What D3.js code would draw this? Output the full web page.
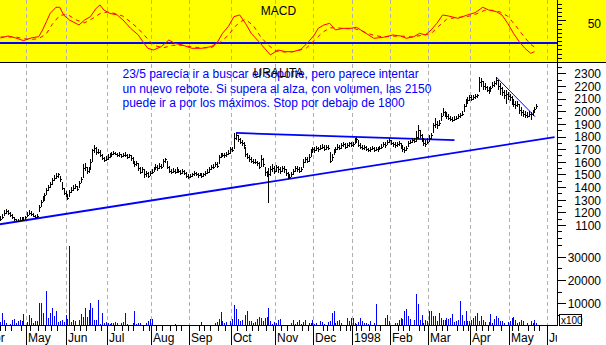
<!DOCTYPE html>
<html><head><meta charset="utf-8">
<script src="https://cdn.jsdelivr.net/npm/d3@7"></script>
<style>
html,body{margin:0;padding:0;background:#fff;}
svg{display:block;font-family:"Liberation Sans",Arial,sans-serif;}
</style></head><body>
<svg id="c" width="606" height="345"></svg>
<script>
// ---------- DATA ----------
const calendarStart = "1997-04-01";
const calendarEnd = "1998-06-30";
const firstBarDate = "1997-04-11";
const holidays = ["1997-05-01","1997-08-15","1997-12-08","1997-12-25","1997-12-26","1998-01-01","1998-01-06","1998-04-09","1998-04-10","1998-05-01"];
const monthLabels = ["1998","Feb","Mar","Apr","May","Jun","Jul","Aug","Sep","Oct","Nov","Dec"];
const minorTickDays = [6,11,16,21,26,31];

const closes = [1150,1165,1195,1210,1195,1180,1165,1145,1135,1135,1140,1150,1140,1160,1180,1195,1190,1175,1165,1170,
1245,1285,1300,1335,1375,1400,1425,1455,1470,1490,1500,1465,1395,1355,1340,1315,1360,1380,1395,1410,
1385,1430,1465,1550,1555,1525,1540,1600,1690,1710,1680,1680,1655,1630,1615,1620,1640,1650,1660,1670,
1665,1650,1660,1645,1650,1655,1640,1650,1630,1600,1580,1590,1550,1520,1540,1500,1510,1490,1510,1520,
1540,1560,1550,1570,1560,1610,1620,1560,1530,1520,1530,1520,1540,1525,1510,1525,1515,1490,1480,1490,
1500,1510,1505,1495,1500,1490,1500,1510,1520,1540,1560,1560,1580,1570,1640,1650,1655,1650,1660,1670,
1700,1690,1790,1810,1780,1760,1750,1730,1660,1640,1620,1610,1600,1600,1590,1560,1620,1580,1520,1500,
1500,1540,1550,1530,1560,1540,1530,1550,1540,1510,1490,1480,1500,1530,1550,1540,1530,1545,1600,1620,
1610,1640,1680,1700,1690,1710,1700,1710,1720,1700,1720,1710,1610,1640,1680,1700,1720,1710,1730,1740,
1720,1730,1745,1735,1740,1770,1780,1730,1720,1710,1715,1700,1690,1700,1710,1695,1705,1700,1710,1720,
1740,1730,1760,1770,1750,1740,1730,1740,1750,1720,1700,1690,1710,1750,1760,1770,1765,1800,1850,1810,
1780,1750,1740,1760,1790,1810,1890,1900,1890,1910,1960,1990,1980,1960,1950,1940,1930,1940,1950,1960,
1970,1980,2040,2070,2090,2110,2100,2110,2120,2130,2230,2240,2200,2190,2170,2160,2180,2210,2220,2250,
2200,2180,2150,2130,2140,2120,2110,2080,2060,2050,2060,2010,1990,1980,1970,1960,1980,1975,1990,2020,2040];

const highs = [1170,1185,1215,1225,1215,1200,1185,1165,1150,1150,1160,1165,1160,1175,1200,1215,1210,1195,1180,1185,
1260,1300,1330,1350,1395,1420,1440,1475,1495,1510,1515,1490,1440,1390,1370,1345,1375,1400,1415,1425,
1410,1445,1480,1580,1590,1555,1560,1620,1700,1735,1715,1700,1690,1660,1640,1645,1660,1670,1680,1685,
1680,1670,1675,1665,1670,1675,1660,1665,1655,1640,1610,1610,1590,1560,1560,1540,1530,1520,1525,1540,
1560,1580,1575,1590,1585,1625,1630,1610,1565,1545,1550,1545,1555,1545,1535,1540,1535,1520,1500,1505,
1515,1525,1520,1515,1515,1510,1515,1525,1540,1555,1575,1580,1600,1595,1655,1670,1670,1670,1675,1690,
1715,1720,1830,1825,1815,1790,1770,1760,1720,1670,1650,1635,1620,1620,1610,1600,1650,1630,1560,1530,
1550,1570,1580,1570,1575,1570,1555,1570,1565,1545,1520,1505,1520,1545,1565,1565,1555,1560,1620,1640,
1635,1660,1700,1715,1720,1725,1720,1730,1740,1730,1735,1730,1680,1660,1700,1720,1740,1735,1750,1760,
1750,1750,1760,1755,1760,1790,1795,1770,1745,1730,1735,1725,1710,1715,1725,1715,1720,1720,1725,1740,
1755,1755,1775,1785,1775,1760,1755,1760,1765,1750,1730,1715,1725,1765,1775,1790,1785,1840,1890,1850,
1820,1790,1770,1785,1810,1830,1910,1945,1920,1930,1985,2025,2005,1990,1975,1965,1955,1960,1965,1980,
1985,2000,2060,2100,2110,2130,2125,2130,2135,2140,2270,2265,2240,2220,2200,2190,2200,2235,2240,2270,
2250,2220,2190,2170,2170,2150,2140,2120,2100,2080,2080,2060,2030,2010,2000,1990,2000,1995,2010,2035,2055];

const lows = [1135,1150,1170,1190,1180,1165,1150,1130,1125,1120,1130,1135,1130,1140,1160,1180,1175,1160,1150,1155,
1200,1240,1280,1300,1340,1370,1395,1420,1445,1460,1475,1440,1380,1340,1320,1295,1320,1355,1370,1385,
1370,1390,1430,1470,1530,1500,1510,1540,1600,1670,1650,1660,1640,1615,1600,1605,1615,1630,1640,1655,
1650,1635,1640,1630,1635,1640,1625,1630,1610,1585,1560,1570,1530,1500,1510,1470,1480,1470,1485,1500,
1520,1535,1530,1545,1540,1560,1590,1540,1510,1500,1510,1505,1515,1510,1495,1505,1495,1470,1460,1470,
1480,1490,1490,1475,1485,1475,1480,1490,1500,1515,1535,1540,1555,1550,1580,1630,1635,1630,1640,1650,
1665,1680,1700,1770,1760,1740,1725,1700,1640,1620,1600,1590,1585,1580,1570,1540,1560,1560,1490,1480,
1275,1490,1520,1500,1520,1510,1500,1520,1515,1490,1465,1460,1480,1495,1520,1520,1510,1520,1550,1590,
1590,1600,1640,1670,1670,1685,1680,1690,1700,1685,1695,1690,1590,1610,1650,1675,1695,1690,1705,1715,
1700,1710,1720,1715,1720,1740,1750,1715,1700,1690,1695,1685,1675,1680,1690,1680,1685,1680,1690,1700,
1715,1710,1730,1745,1730,1720,1710,1720,1725,1700,1680,1670,1685,1715,1740,1750,1745,1760,1780,1790,
1760,1725,1720,1740,1760,1780,1830,1870,1860,1880,1920,1960,1955,1940,1930,1920,1915,1920,1930,1940,
1950,1960,1990,2030,2060,2080,2080,2090,2100,2105,2150,2190,2170,2165,2150,2140,2155,2180,2195,2210,
2170,2130,2120,2100,2060,2090,2080,2050,2030,2020,2030,1980,1960,1955,1950,1945,1955,1930,1965,1995,2015];

const volumes = [2000,5700,2900,1700,700,1000,2900,3100,1700,2400,2700,2400,5300,600,2000,4900,3700,1700,2400,2400,
10000,10000,5700,400,15300,3700,6000,8000,4600,6600,2100,2400,2900,2100,4900,3100,34600,2100,2900,2400,
700,2900,5300,4300,7900,4300,7000,10000,8150,2900,2900,11400,1000,5700,1400,2100,1400,
1000,1400,1700,2000,1400,900,1700,2000,5700,1000,900,700,1400,6700,1000,1400,1400,700,300,1700,2400,3100,3100,400,
300,500,700,400,600,300,900,400,700,500,1000,300,600,400,700,300,500,200,400,300,200,500,300,600,2000,500,300,700,400,500,300,
1400,2000,3100,6300,2300,1400,2000,900,2400,3100,9300,7700,3100,2300,2900,900,5000,6700,2400,2400,
1400,2000,3100,4300,3900,2400,3700,4300,8000,2400,1000,2100,1700,2900,3100,900,700,700,300,900,1700,2900,1000,2100,2900,
1000,2100,2900,700,1400,1400,2900,1000,1400,700,2400,2000,1000,700,2000,2300,5700,6700,1400,2300,
2900,1400,700,700,3600,2300,3600,3600,1700,1000,2000,3600,2400,1400,1700,1000,2400,700,1400,9900,
700,400,400,300,3600,4900,2400,300,300,1400,1400,2900,3600,3100,6700,7700,4600,3100,700,2900,
13900,9600,2900,5000,1400,2900,2400,6700,6700,4600,4600,2400,5700,3900,2900,2900,3900,3100,3600,5400,
2100,2400,2900,11000,5000,2400,6700,2400,2400,2900,3900,4600,5700,2400,4600,2900,2100,700,2000,5300,
1400,3100,4600,3700,2400,2400,1400,700,2000,2400,3700,4000,2900,1700,2100,2900,2400,700,1400,700,
2400,1400,2900,1700];

const macdBars = [0,4,8,12,16,20,22,24,26,29,31,33,36,41,44,47,50,52,54,57,61,64,68,72,75,77,80,84,88,91,95,100,105,110,113,116,119,122,125,128,131,135,138,141,145,149,153,157,161,164,166,169,172,175,179,183,186,191,195,200,205,209,212,216,219,222,225,228,231,234,239,244,248,252,255,259,262,265,268,271,274,277,279];
const macdValues = [28.8,31.2,28.8,25.6,28.8,30.4,38.4,48.4,58.4,65.6,65.6,56.4,50.4,44.4,50.4,54.4,64.4,68.4,62.4,58.4,56.4,50.4,40.4,32.4,22.4,16.4,14.4,18.4,26.4,22.4,20.4,16.4,16.4,18.4,22.4,34.4,42.4,54.4,56.4,46.4,34.4,24.4,16.4,8.4,14.4,12.4,12.4,15.2,24.4,32.4,40.4,44.4,46.4,38.4,40.4,40.4,41.6,34.4,28.4,29.6,32.4,31.2,28.4,30.4,34.4,32.4,38.4,46.4,56.4,55.2,52.4,56.4,59.2,65.6,62.4,60.4,56.4,46.4,34.4,24.4,16.4,10.4,12.4];
const signalBars = [0,4,8,12,16,20,24,27,31,35,40,44,48,52,56,60,64,68,72,76,80,85,90,95,100,105,110,115,119,122,125,128,132,136,140,144,148,152,156,160,164,168,172,176,180,185,190,195,200,205,210,215,220,225,229,233,237,241,245,249,253,257,261,265,269,273,277,279];
const signalValues = [30,30,30,28,27,28,34,45,56,57,50,47,52,58,60,58,55,48,40,30,20,17,20,20,18,17,17,24,32,41,48,51,44,30,20,13,12,12,14,17,26,35,41,41,40,40,36,32,30,31,31,30,32,34,43,51,53,54,55,58,62,62,60,55,44,32,21,18];
const macdReference = 23;

const priceTicks = [1100,1200,1300,1400,1500,1600,1700,1800,1900,2000,2100,2200,2300];
const volumeTicks = [10000,20000,30000];
const macdTicks = [50];

const trendStart = [-0.3, 1106];  const trendEnd = [289.5, 1795];
const resistStart = [123.1, 1828]; const resistEnd = [237.2, 1772];
const fallStart = [259.2, 2268];   const fallEnd = [279.3, 1957];

const noteLines = ["23/5 parecía ir a buscar el soporte, pero parece intentar",
                   "un nuevo rebote. Si supera al alza, con volumen, las 2150",
                   "puede ir a por los máximos. Stop por debajo de 1800"];
const title = "URALITA";
const macdTitle = "MACD";
const volUnit = "x100";

// ---------- CALENDAR ----------
const iso = d => d.toISOString().slice(0,10);
const days = [];
for (let d = new Date(calendarStart + "T00:00:00Z"); d <= new Date(calendarEnd + "T00:00:00Z"); d.setUTCDate(d.getUTCDate()+1)) {
  const wd = d.getUTCDay();
  if (wd === 0 || wd === 6) continue;
  if (holidays.includes(iso(d))) continue;
  days.push(new Date(d));
}
const first = days.findIndex(d => iso(d) === firstBarDate);

// ---------- SCALES ----------
const W = 557;
const x = d3.scaleLinear().domain([first, first + 291]).range([-0.5, 556.5]);
const bx = k => x(first + k + 0.5);
const yP = d3.scaleLinear().domain([1100, 2300]).range([225, 73.3]);
const yV = d3.scaleLinear().domain([0, 30000]).range([326.6, 256.7]);
const yM = d3.scaleLinear().domain([0, 50]).range([62, 20.3]);

const svg = d3.select("#c");
const defs = svg.append("defs");
defs.append("clipPath").attr("id","plot").append("rect").attr("x",0).attr("y",0).attr("width",W).attr("height",345);
defs.append("clipPath").attr("id","vol").append("rect").attr("x",0).attr("y",63).attr("width",W).attr("height",262);

svg.append("rect").attr("width",606).attr("height",345).attr("fill","#fff");
svg.append("rect").attr("width",606).attr("height",62).attr("fill","#ffff00");

// month starts and minor ticks
const monthStarts = [];
days.forEach((d,i) => { if (i === 0 || d.getUTCMonth() !== days[i-1].getUTCMonth()) monthStarts.push(i); });
const minorIdx = [];
monthStarts.forEach(ms => {
  const m = days[ms].getUTCMonth();
  minorTickDays.forEach(t => {
    let j = ms;
    while (j < days.length && days[j].getUTCMonth() === m && days[j].getUTCDate() < t) j++;
    if (j < days.length && days[j].getUTCMonth() === m && j !== ms && !minorIdx.includes(j)) minorIdx.push(j);
  });
});
const gridX = monthStarts.map(i => x(i)).filter(v => v > 0 && v < W);

// grid
const grid = svg.append("g").attr("stroke","#b0b0b0").attr("stroke-dasharray","4,3").attr("shape-rendering","crispEdges");
grid.selectAll("line.g1").data(gridX).join("line").attr("class","g1")
  .attr("x1",d=>Math.round(d)+0.5).attr("x2",d=>Math.round(d)+0.5).attr("y1",0).attr("y2",61);
grid.selectAll("line.g2").data(gridX).join("line").attr("class","g2")
  .attr("x1",d=>Math.round(d)+0.5).attr("x2",d=>Math.round(d)+0.5).attr("y1",64).attr("y2",325);

// MACD reference and lines
const yRef = Math.round(yM(macdReference));
svg.append("line").attr("x1",0).attr("x2",W).attr("y1",yRef).attr("y2",yRef)
  .attr("stroke","#0000ff").attr("stroke-width",2).attr("shape-rendering","crispEdges");
const macdLine = d3.line().x(d=>bx(d[0])).y(d=>yM(d[1]));
svg.append("path").datum(macdBars.map((b,i)=>[b,macdValues[i]])).attr("d",macdLine)
  .attr("fill","none").attr("stroke","#ff0000").attr("stroke-width",1);
svg.append("path").datum(signalBars.map((b,i)=>[b,signalValues[i]])).attr("d",macdLine)
  .attr("fill","none").attr("stroke","#ff0000").attr("stroke-width",1).attr("stroke-dasharray","4,4");
svg.append("text").attr("x",W/2).attr("y",15).attr("text-anchor","middle").attr("font-size",12).text(macdTitle);

// panel separator
svg.append("line").attr("x1",0).attr("x2",606).attr("y1",62.5).attr("y2",62.5).attr("stroke","#000").attr("stroke-width",1);

// volume bars
svg.append("g").attr("clip-path","url(#vol)").selectAll("line").data(volumes).join("line")
  .attr("x1",(d,k)=>Math.round(bx(k))+0.5).attr("x2",(d,k)=>Math.round(bx(k))+0.5)
  .attr("y1",d=>yV(d)).attr("y2",325).attr("stroke","#0000ff").attr("stroke-width",1).attr("shape-rendering","crispEdges");

// trend lines
const tl = (a,b,w) => svg.append("line").attr("x1",bx(a[0])).attr("y1",yP(a[1])).attr("x2",bx(b[0])).attr("y2",yP(b[1]))
  .attr("stroke","#0000ff").attr("stroke-width",w);
tl(trendStart, trendEnd, 1.8);
tl(resistStart, resistEnd, 1.8);
tl(fallStart, fallEnd, 1);

// price bars
const pb = svg.append("g").attr("stroke","#000").attr("shape-rendering","crispEdges");
pb.selectAll("line.hl").data(closes).join("line").attr("class","hl")
  .attr("x1",(d,k)=>Math.round(bx(k))+0.5).attr("x2",(d,k)=>Math.round(bx(k))+0.5)
  .attr("y1",(d,k)=>yP(highs[k])).attr("y2",(d,k)=>yP(lows[k]));
pb.selectAll("line.cl").data(closes).join("line").attr("class","cl")
  .attr("x1",(d,k)=>Math.round(bx(k))+1).attr("x2",(d,k)=>Math.round(bx(k))+2)
  .attr("y1",d=>Math.round(yP(d))+0.5).attr("y2",d=>Math.round(yP(d))+0.5);

// notes and title
svg.append("g").attr("fill","#0000ff").attr("font-size",12).selectAll("text").data(noteLines).join("text")
  .attr("x",122.5).attr("y",(d,i)=>78.3 + i*14.2).text(d=>d);
svg.append("text").attr("x",W/2).attr("y",77).attr("text-anchor","middle").attr("font-size",12).attr("fill","#000").text(title);

// right axes
function rAxis(scale, major, minor, labels) {
  const gMin = svg.append("g").attr("transform",`translate(${W},0)`)
    .call(d3.axisRight(scale).tickValues(minor).tickSize(5).tickFormat(""));
  const gMaj = svg.append("g").attr("transform",`translate(${W},0)`)
    .call(d3.axisRight(scale).tickValues(major).tickSize(9).tickFormat(labels ? d3.format("d") : ""));
  [gMin,gMaj].forEach(g => { g.select(".domain").remove(); g.selectAll("line").attr("stroke","#000").attr("shape-rendering","crispEdges"); });
  gMaj.selectAll("text").attr("x",44).attr("text-anchor","end").attr("font-size",12).attr("fill","#000")
    .attr("font-family","Liberation Sans, Arial, sans-serif").attr("dy","0.36em");
  return gMaj;
}
const gm = rAxis(yM, macdTicks, d3.range(0,75,5).filter(v=>v!==50), true);
gm.selectAll("text").attr("dy","0.6em");
rAxis(yP, priceTicks, d3.range(1000,2351,50).filter(v=>v%100!==0).concat([1000]), true);
rAxis(yV, volumeTicks, [5000,15000,25000,35000], true);

// axis lines
svg.append("line").attr("x1",W+0.5).attr("x2",W+0.5).attr("y1",0).attr("y2",326).attr("stroke","#000").attr("shape-rendering","crispEdges");
svg.append("line").attr("x1",0).attr("x2",W+1).attr("y1",325.5).attr("y2",325.5).attr("stroke","#000").attr("shape-rendering","crispEdges");

// x100 box
svg.append("rect").attr("x",559.5).attr("y",314.5).attr("width",22).attr("height",11).attr("fill","#fff").attr("stroke","#000");
svg.append("text").attr("x",561).attr("y",323.5).attr("font-size",10).text(volUnit);

// x axis ticks and labels
const xa = svg.append("g").attr("clip-path","url(#plot)");
xa.selectAll("line.mt").data(monthStarts).join("line").attr("class","mt")
  .attr("x1",i=>Math.round(x(i))+0.5).attr("x2",i=>Math.round(x(i))+0.5).attr("y1",326).attr("y2",345)
  .attr("stroke","#000").attr("shape-rendering","crispEdges");
xa.selectAll("line.nt").data(minorIdx).join("line").attr("class","nt")
  .attr("x1",i=>Math.round(x(i))+0.5).attr("x2",i=>Math.round(x(i))+0.5).attr("y1",326).attr("y2",331)
  .attr("stroke","#000").attr("shape-rendering","crispEdges");
xa.selectAll("text").data(monthStarts).join("text")
  .attr("x",i=>Math.round(x(i))+2).attr("y",342).attr("font-size",12)
  .text(i=>monthLabels[days[i].getUTCMonth()]);
</script>
</body></html>
